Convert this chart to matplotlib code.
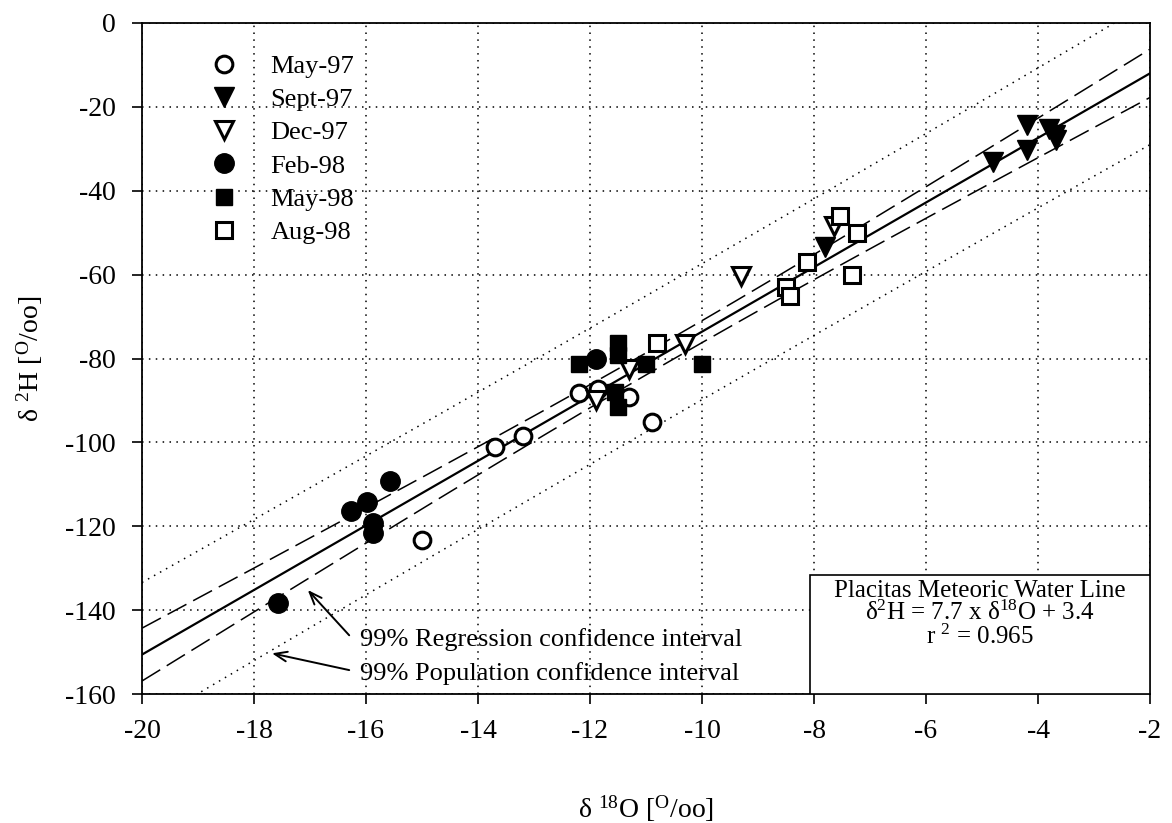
import numpy as np
import matplotlib
matplotlib.use("Agg")
import matplotlib.pyplot as plt
from matplotlib.patches import Rectangle

# Stable isotope samples: delta-18O (per mil) and delta-2H (per mil)
may97_o18 = [-12.2, -11.3, -10.9, -13.7, -13.2, -15.0, -11.85]
may97_h2 = [-88.3, -89.2, -95.2, -101.2, -98.4, -123.2, -87.3]
sep97_o18 = [-4.2, -3.8, -3.7, -3.68, -4.2, -4.8, -7.8]
sep97_h2 = [-24.4, -25.3, -26.6, -28.0, -30.3, -33.2, -53.3]
dec97_o18 = [-9.3, -7.65, -10.3, -11.3, -11.9]
dec97_h2 = [-60.4, -48.4, -76.5, -82.5, -89.8]
feb98_o18 = [-11.9, -15.57, -15.98, -16.27, -15.87, -15.87, -17.58]
feb98_h2 = [-80.2, -109.2, -114.3, -116.3, -119.3, -121.5, -138.4]
may98_o18 = [-12.2, -11.5, -11.5, -11.0, -10.0, -11.55, -11.5]
may98_h2 = [-81.4, -76.4, -79.2, -81.4, -81.2, -88.0, -91.6]
aug98_o18 = [-10.81, -7.54, -7.23, -8.13, -7.33, -8.5, -8.43]
aug98_h2 = [-76.2, -46.1, -50.0, -56.9, -60.0, -63.0, -65.0]

# Local meteoric water line and its 99% intervals
slope, intercept, r2 = 7.7, 3.4, 0.965
o18_mean = -10.5          # centre of the sampled delta-18O range
reg_hw_centre = 2.6       # regression interval half-width at the centre
reg_hw_growth = 0.604     # growth of that half-width away from the centre
pop_hw = 16.0             # scatter term of the population interval

x_ticks = list(range(-20, -1, 2))
y_ticks = list(range(-160, 1, 20))

plt.rcParams["font.family"] = ["Liberation Serif", "DejaVu Serif"]
plt.rcParams["mathtext.fontset"] = "custom"
plt.rcParams["mathtext.rm"] = "Liberation Serif"
plt.rcParams["mathtext.it"] = "Liberation Serif:italic"
plt.rcParams["mathtext.bf"] = "Liberation Serif:bold"
plt.rcParams["axes.unicode_minus"] = False

fig = plt.figure(figsize=(11.72, 8.23), dpi=100)
ax = fig.add_axes([142 / 1172, 1 - 694 / 823, 1008 / 1172, 671 / 823])

ax.set_xlim(-20, -2)
ax.set_ylim(-160, 0)
ax.set_xticks(x_ticks)
ax.set_yticks(y_ticks)
ax.tick_params(direction="out", length=7, width=1.2, labelsize=20, pad=11)
ax.tick_params(axis="y", pad=12)
ax.grid(True, color="black", linestyle=(0, (1, 3.5)), linewidth=1.1)
ax.set_axisbelow(True)
for s in ax.spines.values():
    s.set_linewidth(1.3)

# Regression line with confidence bands
xs = np.linspace(-20, -2, 400)
fit = slope * xs + intercept
reg_hw = np.sqrt(reg_hw_centre ** 2 + (reg_hw_growth * (xs - o18_mean)) ** 2)
pop = np.sqrt(pop_hw ** 2 + reg_hw ** 2)
ax.plot(xs, fit, color="black", lw=1.6, zorder=2)
dash = dict(color="black", lw=1.1, linestyle=(0, (14, 5)), zorder=2)
ax.plot(xs, fit + reg_hw, **dash)
ax.plot(xs, fit - reg_hw, **dash)
dot = dict(color="black", lw=1.1, linestyle=(0, (1, 3.5)), zorder=2)
ax.plot(xs, fit + pop, **dot)
ax.plot(xs, fit - pop, **dot)

open_kw = dict(mfc="white", mec="black", mew=2.2, ls="none", zorder=4)
fill_kw = dict(color="black", ls="none", zorder=4)
h1, = ax.plot(may97_o18, may97_h2, marker="o", ms=12, label="May-97", **open_kw)
h2, = ax.plot(sep97_o18, sep97_h2, marker="v", ms=15, label="Sept-97", **fill_kw)
h3, = ax.plot(dec97_o18, dec97_h2, marker="v", ms=13, label="Dec-97", **open_kw)
h4, = ax.plot(feb98_o18, feb98_h2, marker="o", ms=14, label="Feb-98", **fill_kw)
h5, = ax.plot(may98_o18, may98_h2, marker="s", ms=12, label="May-98", **fill_kw)
h6, = ax.plot(aug98_o18, aug98_h2, marker="s", ms=12, label="Aug-98", **open_kw)

ax.legend(handles=[h1, h2, h3, h4, h5, h6], loc="upper left",
          bbox_to_anchor=(0.058, 0.969), frameon=False, fontsize=19,
          handlelength=1.0, handletextpad=1.25, labelspacing=0.37,
          borderaxespad=0)

# Interval annotations
arrow = dict(arrowstyle="->,head_length=0.9,head_width=0.35", lw=1.4,
             color="black", shrinkA=0, shrinkB=0)
ax.annotate("", xy=(-17.04, -135.2), xytext=(-16.3, -146.0), arrowprops=arrow)
ax.annotate("", xy=(-17.68, -150.3), xytext=(-16.3, -154.3), arrowprops=arrow)
ax.text(-16.1, -147.1, "99% Regression confidence interval", fontsize=19,
        va="center", ha="left")
ax.text(-16.1, -155.0, "99% Population confidence interval", fontsize=19,
        va="center", ha="left")

# Equation box
box_left, box_top = -8.07, -131.7
ax.add_patch(Rectangle((box_left, -160), -2 - box_left, box_top + 160,
                       facecolor="white", edgecolor="black", lw=1.2, zorder=5))
cx = (box_left - 2) / 2
box_lines = [
    "Placitas Meteoric Water Line",
    "δ$^2$H = %.1f x δ$^{18}$O + %.1f" % (slope, intercept),
    "r $^2$ = %.3f" % r2,
]
ax.text(cx, -132.7, "\n".join(box_lines), fontsize=18, ha="center",
        va="top", multialignment="center", linespacing=0.97, zorder=6)

ax.set_xlabel("δ $^{18}$O [$^{\\rm O}$/oo]", fontsize=20, labelpad=36)
ax.set_ylabel("δ $^{2}$H [$^{\\rm O}$/oo]", fontsize=20, labelpad=14)

fig.savefig("out.png", dpi=100)
